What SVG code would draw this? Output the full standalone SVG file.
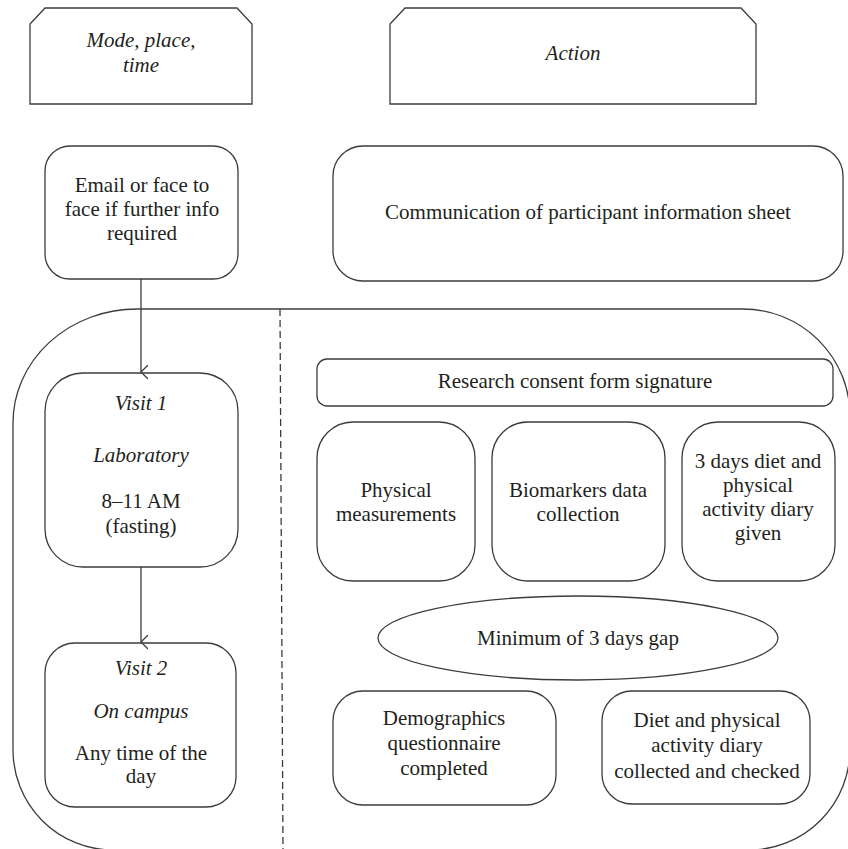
<svg xmlns="http://www.w3.org/2000/svg" width="848" height="849" viewBox="0 0 848 849">
<style>
.s{fill:#fff;stroke:#3c3c3c;stroke-width:1.3}
.c{fill:none;stroke:#3c3c3c;stroke-width:1.3}
text{font-family:'Liberation Serif','Times New Roman','DejaVu Serif',serif;font-size:21px;fill:#231f20;text-anchor:middle}
.i{font-style:italic}
</style>
<defs>
<marker id="ah" markerWidth="16" markerHeight="12" refX="7" refY="7" orient="auto" markerUnits="userSpaceOnUse" viewBox="0 0 16 12">
<path d="M0,0 L7,7 L14,0" fill="none" stroke="#3c3c3c" stroke-width="1.3"/>
</marker>
</defs>
<rect width="848" height="849" fill="#fff"/>
<g id="container">
<path class="c" d="M137,309 L743,309 A107,107 0 0 1 850,416 L850,749 A101,101 0 0 1 749,850 L113,850 A100,100 0 0 1 13,750 L13,423 A124,114 0 0 1 137,309 Z"/>
<line x1="280" y1="309" x2="283" y2="849" stroke="#3c3c3c" stroke-width="1.3" stroke-dasharray="7,4"/>
</g>
<g font-family="'Liberation Serif', 'Times New Roman', serif">
<g id="header-mode">
<path class="s" d="M45,8 L237,8 L252,24 L252,104 L30,104 L30,24 Z"/>
<text class="i" x="141" y="47">Mode, place,</text>
<text class="i" x="141" y="72">time</text>
</g>
<g id="header-action">
<path class="s" d="M405,8 L741,8 L756,24 L756,104 L390,104 L390,24 Z"/>
<text class="i" x="573" y="60">Action</text>
</g>
<g id="email">
<rect class="s" x="45" y="146" width="193" height="133" rx="25"/>
<text x="142" y="192">Email or face to</text>
<text x="142" y="216">face if further info</text>
<text x="142" y="240">required</text>
</g>
<g id="communication">
<rect class="s" x="333" y="146" width="510" height="135" rx="30"/>
<text x="588" y="219">Communication of participant information sheet</text>
</g>
<g id="visit1">
<rect class="s" x="45" y="373" width="193" height="194" rx="38"/>
<text class="i" x="141" y="410">Visit 1</text>
<text class="i" x="141" y="462">Laboratory</text>
<text x="141" y="508">8–11 AM</text>
<text x="141" y="533">(fasting)</text>
</g>
<g id="visit2">
<rect class="s" x="45" y="643" width="191" height="164" rx="30"/>
<text class="i" x="141" y="675">Visit 2</text>
<text class="i" x="141" y="718">On campus</text>
<text x="141" y="760">Any time of the</text>
<text x="141" y="783">day</text>
</g>
<g id="consent">
<rect class="s" x="317" y="359" width="516" height="47" rx="10"/>
<text x="575" y="388">Research consent form signature</text>
</g>
<g id="physical">
<rect class="s" x="317" y="422" width="158" height="159" rx="36"/>
<text x="396" y="497">Physical</text>
<text x="396" y="521">measurements</text>
</g>
<g id="biomarkers">
<rect class="s" x="492" y="422" width="173" height="159" rx="36"/>
<text x="578" y="497">Biomarkers data</text>
<text x="578" y="521">collection</text>
</g>
<g id="diary-given">
<rect class="s" x="682" y="422" width="153" height="159" rx="36"/>
<text x="758" y="468">3 days diet and</text>
<text x="758" y="492">physical</text>
<text x="758" y="516">activity diary</text>
<text x="758" y="540">given</text>
</g>
<g id="gap">
<ellipse class="s" cx="578" cy="638" rx="200" ry="42"/>
<text x="578" y="645">Minimum of 3 days gap</text>
</g>
<g id="demographics">
<rect class="s" x="333" y="691" width="223" height="114" rx="30"/>
<text x="444" y="725">Demographics</text>
<text x="444" y="750">questionnaire</text>
<text x="444" y="775">completed</text>
</g>
<g id="diary-collected">
<rect class="s" x="602" y="691" width="208" height="113" rx="30"/>
<text x="707" y="727">Diet and physical</text>
<text x="707" y="752">activity diary</text>
<text x="707" y="778">collected and checked</text>
</g>
</g>
<g id="connectors">
<line class="c" x1="141" y1="279" x2="141" y2="372" marker-end="url(#ah)"/>
<line class="c" x1="141" y1="567" x2="141" y2="642" marker-end="url(#ah)"/>
</g>
</svg>
